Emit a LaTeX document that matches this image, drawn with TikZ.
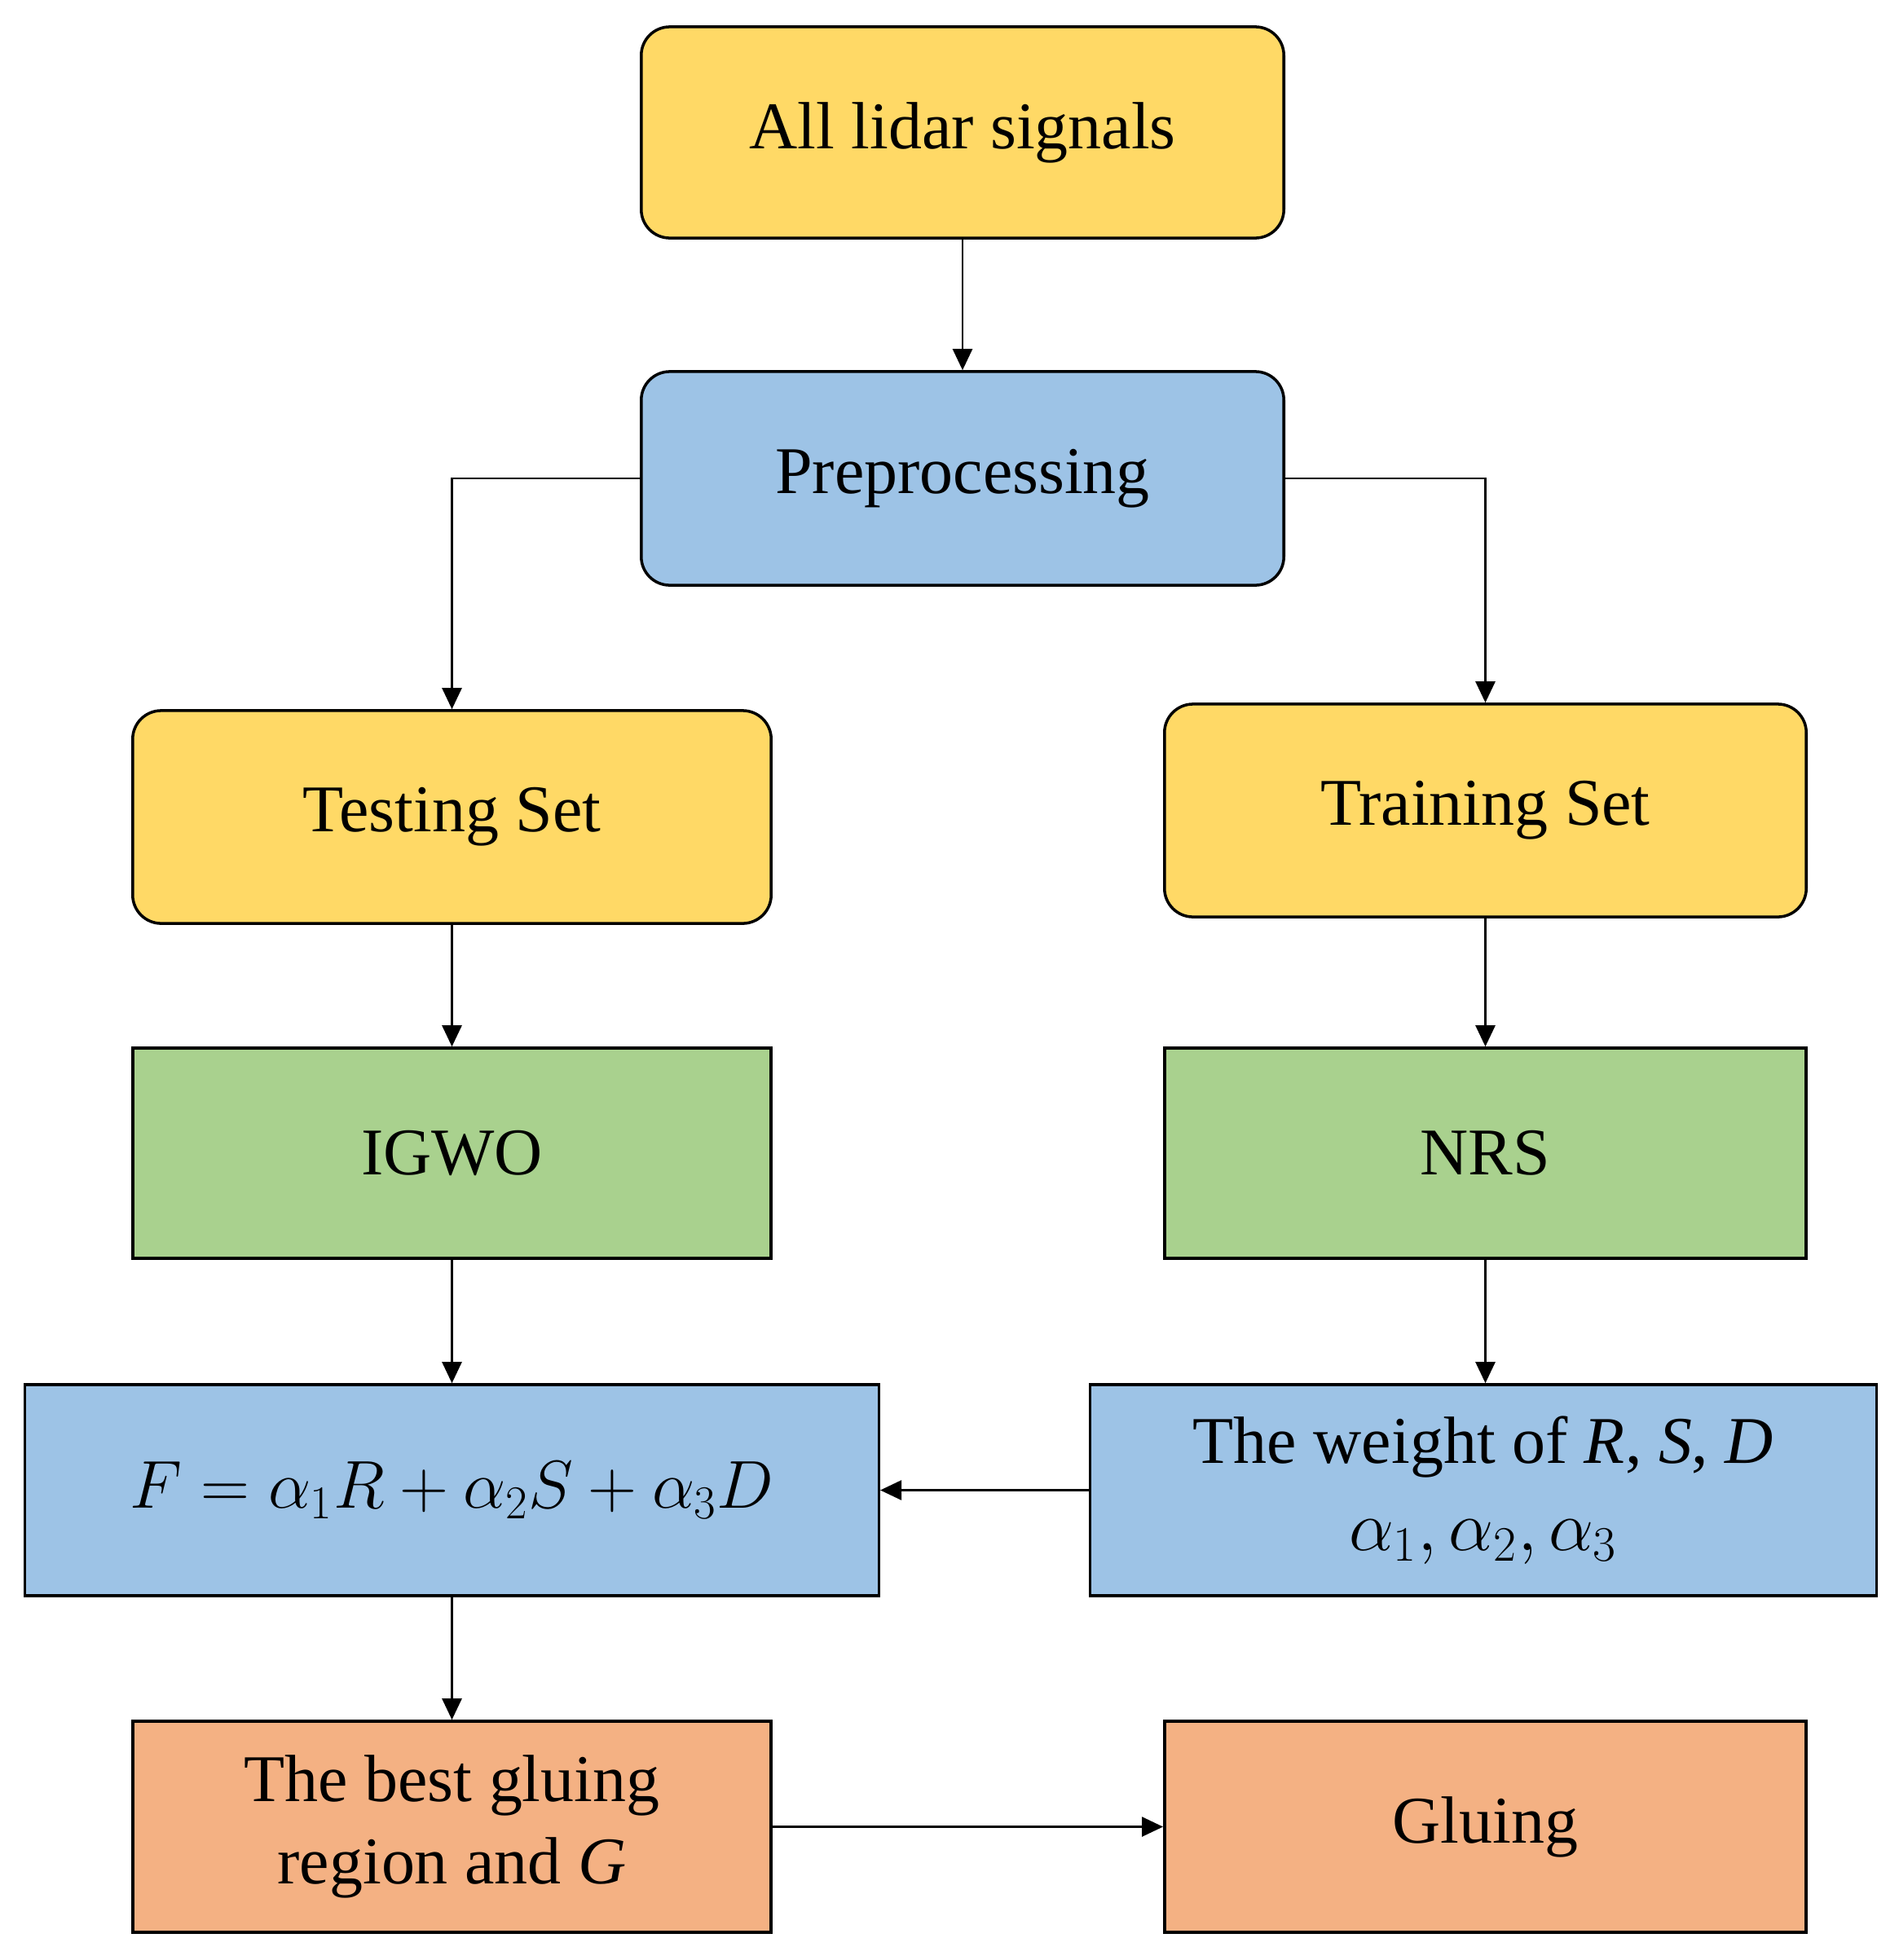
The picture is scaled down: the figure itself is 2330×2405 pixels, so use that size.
\documentclass[tikz,border=0pt]{standalone}
\usepackage{fontspec}
\setmainfont{Liberation Serif}
\usetikzlibrary{arrows.meta}
\definecolor{cyellow}{HTML}{FFD966}
\definecolor{cblue}{HTML}{9DC3E6}
\definecolor{cgreen}{HTML}{A9D18E}
\definecolor{corange}{HTML}{F4B183}
\begin{document}
\begin{tikzpicture}[x=0.01cm,y=-0.01cm,
  box/.style={draw=black, line width=1pt, inner sep=0pt, align=center,
    font=\fontsize{23.3}{28.5}\selectfont},
  rbox/.style={box, rounded corners=0.35cm},
  arr/.style={draw=black, line width=0.75pt, -{Triangle[length=0.26cm,width=0.24cm]}}]
\useasboundingbox (0,0) rectangle (2330,2405);
\node[rbox, fill=cyellow, minimum width=7.88cm, minimum height=2.59cm] (all) at (1181,162.5) {\raisebox{-0.08cm}{All lidar signals}};
\node[rbox, fill=cblue, minimum width=7.88cm, minimum height=2.62cm] (pre) at (1181,587) {\raisebox{-0.08cm}{Preprocessing}};
\node[rbox, fill=cyellow, minimum width=7.83cm, minimum height=2.61cm] (test) at (554.5,1002.5) {\raisebox{-0.08cm}{Testing Set}};
\node[rbox, fill=cyellow, minimum width=7.87cm, minimum height=2.61cm] (train) at (1822.5,994.5) {\raisebox{-0.08cm}{Training Set}};
\node[box, fill=cgreen, minimum width=7.83cm, minimum height=2.58cm] (igwo) at (554.5,1415) {IGWO};
\node[box, fill=cgreen, minimum width=7.87cm, minimum height=2.58cm] (nrs) at (1822.5,1415) {NRS};
\node[box, fill=cblue, minimum width=10.47cm, minimum height=2.59cm] (F) at (554.5,1828.5) {\scalebox{0.95}{$F = \alpha_1 R + \alpha_2 S + \alpha_3 D$}};
\node[box, fill=cblue, minimum width=9.64cm, minimum height=2.59cm] (weight) at (1820,1828.5) {The weight of \textit{R}, \textit{S}, \textit{D}\\[2pt] $\alpha_1, \alpha_2, \alpha_3$};
\node[box, fill=corange, minimum width=7.83cm, minimum height=2.59cm] (best) at (554.5,2241.5) {The best gluing\\ region and \textit{G}};
\node[box, fill=corange, minimum width=7.87cm, minimum height=2.59cm] (glue) at (1822.5,2241.5) {\raisebox{-0.08cm}{Gluing}};
\draw[arr] (all) -- (pre);
\draw[arr] (pre.west) -| (test.north);
\draw[arr] (pre.east) -| (train.north);
\draw[arr] (test) -- (igwo);
\draw[arr] (train) -- (nrs);
\draw[arr] (igwo) -- (F);
\draw[arr] (nrs) -- (nrs |- weight.north);
\draw[arr] (weight) -- (F);
\draw[arr] (F) -- (best);
\draw[arr] (best) -- (glue);
\end{tikzpicture}
\end{document}
